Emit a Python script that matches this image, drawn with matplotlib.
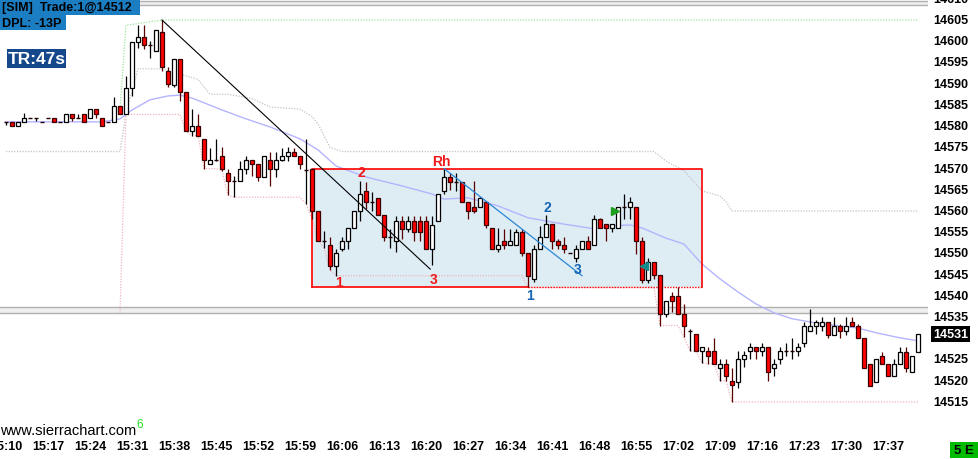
import numpy as np
import matplotlib
matplotlib.use("agg")
import matplotlib.pyplot as plt
import matplotlib.transforms as mtransforms
from matplotlib.patches import Rectangle

plt.rcParams["font.family"] = ["Liberation Sans", "DejaVu Sans"]

# ---- data (1-minute bars, 15:10 .. 17:42) ----
time_labels = ["15:10", "15:17", "15:24", "15:31", "15:38", "15:45", "15:52", "15:59",
               "16:06", "16:13", "16:20", "16:27", "16:34", "16:41", "16:48", "16:55",
               "17:02", "17:09", "17:16", "17:23", "17:30", "17:37"]

opens = [14581, 14581, 14580, 14581, 14582, 14582, 14581, 14582, 14582, 14581,
         14581, 14582.75, 14582, 14582.75, 14582, 14584, 14582, 14581, 14581, 14584.75,
         14582.75, 14589, 14599.75, 14601, 14599, 14597.75, 14602.25, 14593, 14589.75, 14595.75,
         14588, 14578.75, 14580, 14577, 14571, 14572, 14573, 14569, 14567, 14567,
         14570, 14572, 14571, 14568, 14572, 14570, 14572, 14573, 14574, 14573,
         14569.75, 14570, 14560, 14553, 14552, 14547, 14551, 14553, 14556, 14560,
         14564.75, 14562, 14563, 14559, 14553.75, 14553, 14557.75, 14555.75, 14557.75, 14557.75,
         14557.75, 14551, 14557.75, 14564.75, 14568, 14566.75, 14566.75, 14562, 14561, 14561,
         14562, 14556, 14551, 14553, 14552, 14552, 14555, 14550, 14544, 14551,
         14553.75, 14557, 14553, 14552, 14550, 14549, 14551, 14553, 14552, 14558,
         14557, 14556, 14556, 14561, 14561, 14561, 14553, 14543.75, 14548, 14545,
         14535.75, 14540, 14540, 14535.75, 14531.75, 14531, 14527, 14527, 14527, 14523,
         14524, 14520, 14519.75, 14525, 14527, 14528, 14527, 14528, 14523, 14525,
         14527, 14527, 14527, 14529, 14531.75, 14533, 14533, 14533.75, 14530.75, 14533,
         14531.75, 14533.75, 14533, 14530, 14524, 14519.75, 14525.75, 14524, 14521, 14524,
         14526.75, 14522, 14526.75]
highs = [14581, 14581, 14581, 14583, 14582, 14582, 14581, 14582, 14582, 14581,
         14582.75, 14582.75, 14582.75, 14582.75, 14584, 14584, 14582, 14581, 14586.75, 14584.75,
         14591.75, 14599.75, 14603.75, 14603.75, 14600, 14602.75, 14605, 14594, 14595.75, 14595.75,
         14588, 14584, 14582.75, 14577, 14574.75, 14577, 14575, 14570, 14568.25, 14571.75,
         14573, 14572, 14571, 14573, 14574, 14574, 14574.75, 14575, 14574.75, 14573,
         14577, 14570, 14560, 14555.25, 14553.75, 14551, 14553.75, 14556, 14560, 14567,
         14566.75, 14564.5, 14563, 14559, 14555.75, 14558.75, 14558.75, 14558.75, 14558.75, 14558.75,
         14558.75, 14558.75, 14564, 14570, 14569, 14569, 14566.75, 14562, 14567, 14563.25,
         14562.25, 14556, 14556, 14555.75, 14555.75, 14555.75, 14555.75, 14550, 14552, 14556.5,
         14559, 14557, 14553.5, 14553.75, 14550, 14552, 14553, 14554, 14559, 14558.25,
         14557, 14557, 14561, 14564, 14563.25, 14561, 14553.75, 14549, 14548, 14545,
         14538.75, 14541, 14542, 14538, 14532.25, 14531, 14528, 14528, 14530, 14525,
         14525, 14523, 14527, 14527, 14529, 14528, 14529, 14528, 14525, 14528,
         14529, 14530, 14529, 14533.75, 14537, 14534.25, 14535, 14533.75, 14535, 14533.25,
         14535, 14535, 14533.25, 14530, 14524, 14525, 14526.75, 14524, 14525, 14528,
         14528, 14525.75, 14531]
lows = [14580.25, 14580, 14580, 14581, 14582, 14581.25, 14581, 14582, 14581, 14581,
        14581, 14581.25, 14582, 14581, 14582, 14582, 14580, 14581, 14581, 14582.75,
        14582.75, 14587, 14598.5, 14598.25, 14596, 14597.75, 14593, 14589.25, 14589.25, 14586,
        14578.75, 14577.75, 14577.75, 14570, 14571, 14571.75, 14569.5, 14563.75, 14563.25, 14567,
        14568.75, 14568.25, 14567, 14568, 14566, 14568, 14571.75, 14571.75, 14573, 14570,
        14561.75, 14558, 14553, 14551.25, 14546, 14544.75, 14550.5, 14551, 14556, 14557.75,
        14560.5, 14560, 14559, 14553, 14551.25, 14550.25, 14553.5, 14555, 14553, 14553,
        14551, 14547.25, 14557.75, 14564, 14565, 14564.75, 14562, 14558, 14559.5, 14561,
        14556, 14551, 14550.25, 14551, 14552, 14552, 14549.5, 14542, 14543.25, 14551,
        14553.75, 14551, 14551, 14550, 14550, 14548, 14551, 14551, 14552, 14556,
        14553, 14555, 14556, 14558, 14558, 14549.75, 14543, 14543, 14544, 14533,
        14535, 14536.25, 14535.75, 14530.25, 14527, 14527, 14524.25, 14524, 14524, 14520,
        14520, 14515, 14518.25, 14523.25, 14525, 14525, 14525.75, 14520, 14521, 14524,
        14525.75, 14525, 14525.75, 14528, 14531.75, 14531, 14531.75, 14530, 14530.75, 14530,
        14530.75, 14533, 14530, 14523, 14518.75, 14519.75, 14524, 14521, 14521, 14524,
        14522, 14522, 14526.75]
closes = [14581, 14580, 14581, 14582, 14582, 14582, 14581, 14582, 14581, 14581,
          14582.75, 14582, 14582, 14581, 14584, 14582.75, 14580, 14581, 14584.75, 14582.75,
          14589, 14599.75, 14601, 14599, 14599, 14602.75, 14594, 14590, 14595.75, 14588,
          14578.75, 14580, 14577.75, 14572, 14572, 14572, 14570, 14567, 14567, 14570,
          14572, 14571, 14568, 14573, 14570, 14572, 14573, 14574, 14573, 14571,
          14569.75, 14560, 14553, 14553, 14547, 14550, 14553, 14556, 14560, 14564,
          14562, 14562, 14559, 14553.75, 14553.75, 14557.75, 14555.75, 14557.75, 14555, 14555,
          14551, 14556.75, 14564, 14568, 14566.75, 14566.75, 14562, 14560, 14560, 14563,
          14556.75, 14551, 14552, 14552, 14553, 14555, 14550, 14544.75, 14551, 14553.75,
          14557, 14553, 14552, 14551, 14550, 14551, 14553, 14551, 14558, 14556,
          14556, 14557, 14561, 14561, 14562, 14553, 14543.75, 14548, 14545, 14535.75,
          14538.75, 14538.75, 14535.75, 14533, 14531.75, 14527, 14528, 14525.75, 14524, 14524,
          14521, 14519, 14525, 14526, 14528, 14527, 14528, 14522, 14524, 14527,
          14527, 14527, 14528, 14533, 14533, 14533.75, 14533.75, 14530.75, 14533, 14531.75,
          14533, 14533, 14530, 14523, 14518.75, 14525, 14524, 14521, 14524, 14526.75,
          14523, 14525.75, 14531]

# moving average (lavender), read at sample bars
ma_idx = [0, 16, 19, 21, 24, 27, 29, 31, 33, 36, 40, 44, 49, 52, 55, 60, 66, 71, 73, 77,
          82, 87, 93, 98, 101, 104, 106, 110, 113, 116, 119, 122, 125, 128, 131, 135, 139,
          142, 145, 149, 152]
ma_vals = [14581, 14581, 14581.7, 14583.8, 14586.2, 14587.1, 14587.3, 14586.6, 14585.5,
           14583.8, 14581.7, 14579.8, 14577.0, 14574.4, 14570.6, 14568.0, 14565.9, 14564.0,
           14562.8, 14563.1, 14561.2, 14558.4, 14556.9, 14555.8, 14556.5, 14556.7, 14556.0,
           14553.6, 14552.2, 14547.5, 14544.0, 14540.9, 14538.1, 14536.0, 14534.6, 14533.6,
           14532.9, 14532.4, 14531.3, 14530.1, 14529.4]

# gray dotted upper level
gray_idx = [0, 19, 20, 22, 26, 29, 32, 34, 37, 41, 44, 49, 51, 52, 54, 56, 108, 110, 113,
            116, 119, 120, 121, 152]
gray_vals = [14574, 14574, 14583, 14593.5, 14593.5, 14592.25, 14591, 14587.5, 14587.5,
             14586.5, 14584.5, 14584, 14582.25, 14580.5, 14575, 14574, 14574, 14571.75,
             14569.5, 14564.75, 14563.5, 14562.25, 14560, 14560]

# green dotted session high
green_idx = [19, 20, 26, 152]
green_vals = [14584, 14603.75, 14605, 14605]

# pink dotted session low starts at the 15:30 bar
session_start = 20
pink_prev = 14536

bands = [(14608.5, 14609.5), (14536.0, 14537.4)]
box_idx = [51, 87, 116]          # left, end of solid bottom, right
box_prices = [14542, 14570]
black_line = ([26, 70.7], [14605, 14546.3])
blue_line = ([73, 96], [14570, 14544.75])
red_marks = [("1", 55.5, 14543.3), ("2", 59.3, 14569.1), ("3", 71.3, 14544.0), ("Rh", 72.5, 14571.8)]
blue_marks = [("1", 87.3, 14540.2), ("2", 90.3, 14561.0), ("3", 95.3, 14546.3)]
last_price = 14531
price_ticks = [14515, 14520, 14525, 14535, 14540, 14545, 14550, 14555, 14560, 14565,
               14570, 14575, 14580, 14585, 14590, 14595, 14600, 14605, 14610]

# ---- figure ----
W, H = 979, 460
fig = plt.figure(figsize=(W / 100, H / 100), dpi=100)
ax = fig.add_axes([0, 23 / H, 928 / W, 437 / H])
for s in ax.spines.values():
    s.set_visible(False)
ax.set_xlim(-1, 153.67)
ax.set_ylim(14506.97, 14609.95)

x = np.arange(len(opens))
o = np.array(opens); h = np.array(highs); l = np.array(lows); c = np.array(closes)
up = c > o
dn = c < o
dj = c == o

# background bands
for lo, hi in bands:
    ax.axhspan(lo, hi, color="#efefef", lw=0, zorder=0.5)
    ax.axhline(lo, color="#b0b0b0", lw=1.0, zorder=0.6)
    ax.axhline(hi, color="#b0b0b0", lw=1.0, zorder=0.6)

# range box
ax.add_patch(Rectangle((box_idx[0], box_prices[0]), box_idx[2] - box_idx[0],
                       box_prices[1] - box_prices[0], facecolor="#deecf4",
                       edgecolor="none", zorder=0.4))
red = "#ff0000"
ax.plot([box_idx[0], box_idx[0], box_idx[2], box_idx[2]],
        [box_prices[0], box_prices[1], box_prices[1], box_prices[0]],
        color=red, lw=1.2, zorder=2.2)
ax.plot(box_idx[:2], [box_prices[0]] * 2, color=red, lw=1.2, zorder=2.2)
ax.plot(box_idx[1:], [box_prices[0]] * 2, color=red, lw=1.0, ls=(0, (1, 1)), zorder=2.2)

# dotted levels
dot = (0, (1, 1.2))
ax.plot(gray_idx, gray_vals, color="#c4c4c4", lw=0.9, ls=dot, zorder=1)
ax.plot(green_idx, green_vals, color="#9be69b", lw=0.9, ls=dot, zorder=1)
pink_x = np.r_[session_start - 1, x[session_start:]]
pink_y = np.r_[pink_prev, np.minimum.accumulate(l[session_start:])]
ax.plot(pink_x, pink_y, color="#f2b4bc", lw=0.9, ls=dot, zorder=1)

# moving average
ax.plot(ma_idx, ma_vals, color="#b4b4ff", lw=1.0, zorder=2)

# candles
ax.vlines(x[up | dj], l[up | dj], h[up | dj], color="black", lw=0.9, zorder=3)
ax.vlines(x[dn], l[dn], h[dn], color="#580000", lw=0.9, zorder=3)
ax.bar(x[up], (c - o)[up], bottom=o[up], width=0.72, color="white",
       edgecolor="black", lw=0.9, zorder=3.5)
ax.bar(x[dn], (o - c)[dn], bottom=c[dn], width=0.72, color=red,
       edgecolor="#3a0000", lw=0.9, zorder=3.5)
ax.hlines(c[dj], x[dj] - 0.38, x[dj] + 0.38, color="#200000", lw=1.0, zorder=3.5)

# drawings
ax.plot(*black_line, color="black", lw=0.8, zorder=4)
ax.plot(*blue_line, color="#2a86d6", lw=0.9, zorder=4)
for t, xi, yi in red_marks:
    ax.text(xi, yi, t, color="#f01818", fontsize=10, fontweight="bold",
            ha="center", va="center", zorder=5)
for t, xi, yi in blue_marks:
    ax.text(xi, yi, t, color="#1565b5", fontsize=10, fontweight="bold",
            ha="center", va="center", zorder=5)
ax.plot(101.5, 14560, marker=">", color="#1e9e1e", ms=6, zorder=5)
ax.plot(106.3, 14547, marker="<", color="#138c8c", ms=6, zorder=5)

# time axis
ax.set_xticks(np.arange(len(time_labels)) * 7)
ax.set_xticklabels(time_labels, fontsize=9, fontweight="bold")
ax.tick_params(axis="x", length=0, pad=3)
ax.set_yticks([])

# price axis
trans = mtransforms.blended_transform_factory(ax.transAxes, ax.transData)
for p in price_ticks:
    ax.text(1 + 5 / 928, p, str(p), transform=trans, ha="left", va="center",
            fontsize=9, fontweight="bold", clip_on=False)
ax.text(1 + 5 / 928, last_price, str(last_price), transform=trans, ha="left",
        va="center", fontsize=9, fontweight="bold", color="white",
        bbox=dict(facecolor="black", edgecolor="none", pad=1.5), zorder=6)


def px_rect(x0, y0, x1, y1, color):
    fig.patches.append(Rectangle((x0 / W, 1 - y1 / H), (x1 - x0) / W, (y1 - y0) / H,
                                 transform=fig.transFigure, facecolor=color,
                                 edgecolor="none", zorder=10))


px_rect(0, 0, 140, 16, "#1b7ec2")
px_rect(0, 16, 66, 31, "#1b7ec2")
fig.text(2 / W, 1 - 8.5 / H, "[SIM]  Trade:1@14512", fontsize=9, fontweight="bold",
         va="center", ha="left", zorder=11)
fig.text(2 / W, 1 - 24 / H, "DPL: -13P", fontsize=9, fontweight="bold",
         va="center", ha="left", zorder=11)
px_rect(7, 50, 66, 69, "#14488a")
fig.text(36.5 / W, 1 - 60 / H, "TR:47s", fontsize=12.5, fontweight="bold", color="white",
         va="center", ha="center", zorder=11)

fig.text(0, 1 - 431 / H, "www.sierrachart.com", fontsize=10.5, va="center", ha="left")
fig.text(136 / W, 1 - 425 / H, "6", fontsize=8.5, color="#22dd22", va="center", ha="left")

px_rect(950, 443, 978, 459, "#00bb00")
fig.text(964 / W, 1 - 451 / H, "5 E", fontsize=9.5, fontweight="bold",
         va="center", ha="center", zorder=11)

fig.savefig("out.png", dpi=100)
